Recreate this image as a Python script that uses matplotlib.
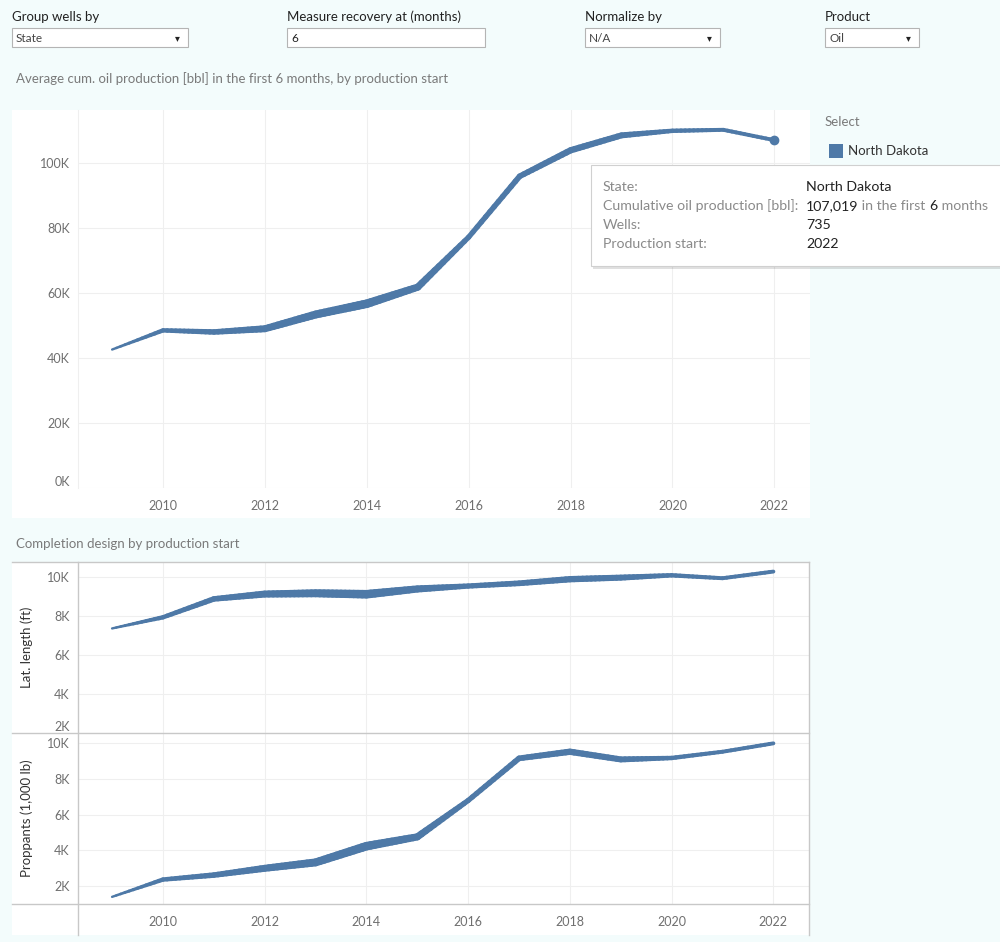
import matplotlib
matplotlib.use('Agg')
import matplotlib.pyplot as plt
import numpy as np
from matplotlib.collections import LineCollection
from matplotlib.patches import Rectangle
from matplotlib.lines import Line2D
from matplotlib.ticker import FuncFormatter

# data (North Dakota, by production start year)
years = list(range(2009, 2023))
wells = [250, 900, 1250, 1700, 2000, 2200, 1750, 1150, 1300, 1500, 1400, 900, 750, 735]
oil_6m = [42600, 48500, 48000, 49000, 53400, 56700, 61800, 77200, 95900, 103900, 108500, 109900, 110200, 107019]
lat_length = [7350, 7920, 8860, 9110, 9150, 9100, 9370, 9520, 9660, 9870, 9950, 10070, 9920, 10260]
proppants = [1400, 2370, 2620, 3000, 3330, 4240, 4760, 6800, 9160, 9530, 9100, 9180, 9530, 10000]

x_ticks = [2010, 2012, 2014, 2016, 2018, 2020, 2022]
oil_ticks = [0, 20000, 40000, 60000, 80000, 100000]
lat_ticks = [2000, 4000, 6000, 8000, 10000]
prop_ticks = [2000, 4000, 6000, 8000, 10000]

tooltip_rows = [("State:", "North Dakota"),
                ("Cumulative oil production [bbl]:", None),
                ("Wells:", "735"),
                ("Production start:", "2022")]

BLUE = '#4e79a7'
BG = '#f3fcfc'
GRID = '#efefef'
BORDER = '#c8c8c8'
TICK = '#6f6f6f'
FONT = ['Lato', 'DejaVu Sans']

W, H = 1000, 942
fig = plt.figure(figsize=(W / 100, H / 100), dpi=100, facecolor=BG)


def fx(x):
    return x / W


def fy(y):
    return 1 - y / H


def px_rect(x0, y0, x1, y1, **kw):
    r = Rectangle((fx(x0), fy(y1)), (x1 - x0) / W, (y1 - y0) / H,
                  transform=fig.transFigure, **kw)
    fig.patches.append(r)
    return r


def px_line(x0, y0, x1, y1, color=BORDER, lw=1.0, z=5):
    fig.lines.append(Line2D([fx(x0), fx(x1)], [fy(y0), fy(y1)],
                            transform=fig.transFigure, color=color, lw=lw, zorder=z))


def band(ax, xs, ys, ws):
    # line whose thickness follows the number of wells
    segs, lws = [], []
    for i in range(len(xs) - 1):
        t = np.linspace(0, 1, 13)
        px = xs[i] + (xs[i + 1] - xs[i]) * t
        py = ys[i] + (ys[i + 1] - ys[i]) * t
        pw = ws[i] + (ws[i + 1] - ws[i]) * t
        for k in range(12):
            segs.append([(px[k], py[k]), (px[k + 1], py[k + 1])])
            lws.append((pw[k] + pw[k + 1]) / 2)
    lc = LineCollection(segs, linewidths=lws, colors=BLUE, capstyle='round',
                        joinstyle='round', zorder=3)
    ax.add_collection(lc)


widths = [(1.5 + w / 310) * 0.72 for w in wells]
kfmt = FuncFormatter(lambda v, p: '%dK' % int(round(v / 1000)))


def style(ax, yticks, ylim, xlabels=True):
    ax.set_facecolor('none')
    ax.set_xlim(2008.33, 2022.7)
    ax.set_ylim(*ylim)
    ax.set_xticks(x_ticks)
    ax.set_yticks(yticks)
    ax.yaxis.set_major_formatter(kfmt)
    ax.grid(True, color=GRID, lw=0.8, zorder=0)
    ax.set_axisbelow(True)
    ax.tick_params(length=0, colors=TICK, labelsize=9, pad=6)
    for lab in ax.get_xticklabels() + ax.get_yticklabels():
        lab.set_family(FONT)
    if not xlabels:
        ax.set_xticklabels([])
    for s in ax.spines.values():
        s.set_visible(False)


# ---- control bar ----
controls = [(12, 188, "Group wells by", "State", True),
            (287, 485, "Measure recovery at (months)", "6", False),
            (585, 720, "Normalize by", "N/A", True),
            (825, 919, "Product", "Oil", True)]
for x0, x1, title, val, drop in controls:
    fig.text(fx(x0), fy(17), title, family=FONT, fontsize=9.5, color='#222', va='center')
    px_rect(x0, 28, x1, 47, facecolor='white', edgecolor='#b4b4b4', lw=0.8, zorder=2)
    fig.text(fx(x0 + 4), fy(38), val, family=FONT, fontsize=8.5,
             color='#222' if not drop else '#444', va='center')
    if drop:
        fig.text(fx(x1 - 11), fy(38), '\u25be', family=['DejaVu Sans'], fontsize=7,
                 color='#222', va='center', ha='center')

fig.text(fx(16), fy(79), "Average cum. oil production [bbl] in the first 6 months, by production start",
         family=FONT, fontsize=9.5, color='#7a7a7a', va='center')

# ---- top chart ----
px_rect(12, 110, 810, 518, facecolor='white', edgecolor='none', zorder=-1)
ax_top = fig.add_axes([fx(78), fy(488), (810 - 78) / W, (488 - 110) / H])
style(ax_top, oil_ticks, (0, 116300))
ax_top.spines['left'].set_visible(True)
ax_top.spines['left'].set_color(GRID)
ax_top.tick_params(axis='x', pad=9)
band(ax_top, years, oil_6m, widths)
ax_top.plot(years[-1], oil_6m[-1], 'o', color=BLUE, ms=6, zorder=4)
ax_top.get_yticklabels()[0].set_va('bottom')

# legend
fig.text(fx(825), fy(122), "Select", family=FONT, fontsize=9.5, color='#7a7a7a', va='center')
px_rect(829, 144, 843, 158, facecolor=BLUE, edgecolor='none', zorder=2)
fig.text(fx(848), fy(151), "North Dakota", family=FONT, fontsize=9.5, color='#333', va='center')

# ---- bottom chart ----
fig.text(fx(16), fy(544), "Completion design by production start",
         family=FONT, fontsize=9.5, color='#7a7a7a', va='center')
px_rect(12, 562, 809, 935, facecolor='white', edgecolor='none', zorder=-1)

ax_lat = fig.add_axes([fx(78), fy(733), 731 / W, 171 / H])
style(ax_lat, lat_ticks, (2000, 10750), xlabels=False)
band(ax_lat, years, lat_length, widths)
ax_lat.get_yticklabels()[0].set_va('bottom')
ax_lat.set_ylabel("Lat. length (ft)", family=FONT, fontsize=9.5, color='#333', labelpad=10)

ax_prop = fig.add_axes([fx(78), fy(904), 731 / W, 171 / H])
style(ax_prop, prop_ticks, (1000, 10580))
ax_prop.tick_params(axis='x', pad=9)
band(ax_prop, years, proppants, widths)
ax_prop.set_ylabel("Proppants (1,000 lb)", family=FONT, fontsize=9.5, color='#333', labelpad=10)

# pane borders
px_line(12, 562, 809, 562)
px_line(12, 733, 809, 733)
px_line(12, 904, 809, 904)
px_line(78, 562, 78, 935)
px_line(809, 562, 809, 935)

# ---- tooltip ----
px_rect(593, 167, 1004, 269, facecolor='#000000', alpha=0.12, edgecolor='none', zorder=6)
px_rect(591, 165, 1002, 266, facecolor='white', edgecolor='#d0d0d0', lw=0.8, zorder=7)
row_y = [187, 206, 225, 244]
for (lab, val), yy in zip(tooltip_rows, row_y):
    fig.text(fx(603), fy(yy), lab, family=FONT, fontsize=10.2, color='#8a8a8a', va='center', zorder=8)
    if val is not None:
        fig.text(fx(806), fy(yy), val, family=FONT, fontsize=10.2, color='#222', va='center', zorder=8)

# mixed-colour value line
renderer = fig.canvas.get_renderer()
xcur = 806
for piece, col in [("%s" % format(oil_6m[-1], ','), '#222'), (" in the first ", '#8a8a8a'),
                   ("6", '#222'), (" months", '#8a8a8a')]:
    t = fig.text(fx(xcur), fy(row_y[1]), piece, family=FONT, fontsize=10.2, color=col,
                 va='center', zorder=8)
    xcur += t.get_window_extent(renderer).width

fig.savefig('out.png', dpi=100, facecolor=BG)
